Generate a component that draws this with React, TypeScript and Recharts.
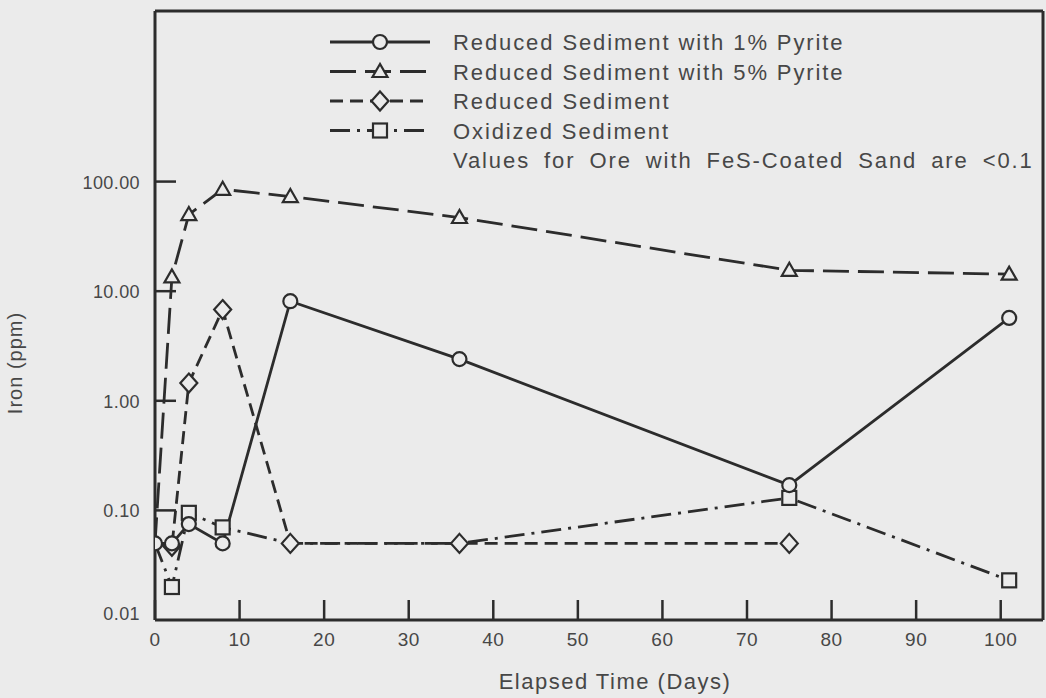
import React from 'react';
import { LineChart, Line, XAxis, YAxis, Legend, Label } from 'recharts';

// ---- data ----
const days = [0, 2, 4, 8, 16, 36, 75, 101];
const pyrite1 = [0.05, 0.05, 0.075, 0.05, 8.1, 2.4, 0.17, 5.7];
const pyrite5 = [0.05, 13.5, 50, 85, 73, 47, 15.5, 14.3];
const reduced = [0.05, 0.047, 1.45, 6.8, 0.05, 0.05, 0.05, null];
const oxidized = [0.05, 0.02, 0.095, 0.07, 0.05, 0.05, 0.13, 0.023];

const seriesKeys = ['pyrite1', 'pyrite5', 'reduced', 'oxidized'];
const seriesNames = [
  'Reduced Sediment with 1% Pyrite',
  'Reduced Sediment with 5% Pyrite',
  'Reduced Sediment',
  'Oxidized Sediment',
];
const noteText = 'Values for Ore with FeS-Coated Sand are <0.1';
const xMajorTicks = [0, 10, 20, 30, 40, 50, 60, 70, 80, 90, 100];
const xMinorTicks = [5, 15, 25, 35, 45, 55, 65, 75, 85, 95];
const yTicks = [0.01, 0.1, 1, 10, 100];
const yTickLabels = ['0.01', '0.10', '1.00', '10.00', '100.00'];
const xTitle = 'Elapsed Time (Days)';
const yTitle = 'Iron (ppm)';

const data = days.map((d, i) => ({
  day: d,
  pyrite1: pyrite1[i],
  pyrite5: pyrite5[i],
  reduced: reduced[i],
  oxidized: oxidized[i],
}));

// ---- style ----
const BG = '#ebebeb';
const INK = '#2c2c2c';
const TEXT = '#474747';
const FONT = '"Liberation Sans", Arial, sans-serif';
const W = 1046;
const H = 698;
const MARGIN = { top: 10, right: 2, bottom: 17, left: 75 };
const X_AXIS_H = 60;
const Y_AXIS_W = 80;
const PLOT_BOTTOM = H - MARGIN.bottom - X_AXIS_H - 1;
const PLOT_LEFT = MARGIN.left + Y_AXIS_W;
const X_DOMAIN = [0, 105];
const Y_DOMAIN = [0.01, 3600];
const LINE_W = 2.8;

const styles: Record<string, { dash?: string; shape: string }> = {
  pyrite1: { shape: 'circle' },
  pyrite5: { dash: '26 9', shape: 'triangle' },
  reduced: { dash: '13 7', shape: 'diamond' },
  oxidized: { dash: '20 7 3 7', shape: 'square' },
};

// marker precedence for coincident points
const precedence = ['pyrite1', 'reduced', 'oxidized', 'pyrite5'];
const seriesValues: Record<string, (number | null)[]> = { pyrite1, pyrite5, reduced, oxidized };

function isHidden(key: string, index: number) {
  const me = seriesValues[key][index];
  const rank = precedence.indexOf(key);
  for (let r = 0; r < rank; r++) {
    const other = seriesValues[precedence[r]][index];
    if (other != null && me != null && other === me) return true;
  }
  return false;
}

function Marker({ shape, cx, cy }: { shape: string; cx: number; cy: number }) {
  const common = { fill: BG, stroke: INK, strokeWidth: 2.2 };
  if (shape === 'circle') return <circle cx={cx} cy={cy} r={7} {...common} />;
  if (shape === 'triangle')
    return <polygon points={`${cx},${cy - 7.5} ${cx - 7.5},${cy + 5.5} ${cx + 7.5},${cy + 5.5}`} {...common} />;
  if (shape === 'diamond')
    return <polygon points={`${cx},${cy - 9.5} ${cx + 8.5},${cy} ${cx},${cy + 9.5} ${cx - 8.5},${cy}`} {...common} />;
  return <rect x={cx - 7} y={cy - 7} width={14} height={14} {...common} />;
}

const makeDot = (key: string) => (props: any) => {
  const { cx, cy, index } = props;
  if (cx == null || cy == null || props.value == null || isHidden(key, index)) {
    return <g key={`${key}-${index}`} />;
  }
  return (
    <g key={`${key}-${index}`}>
      <Marker shape={styles[key].shape} cx={cx} cy={cy} />
    </g>
  );
};

const XTick = (props: any) => {
  const { x, payload } = props;
  const v = Number(payload.value);
  return (
    <text x={x} y={PLOT_BOTTOM} dy={26} textAnchor="middle" fill={TEXT} fontSize={19} fontFamily={FONT} letterSpacing={0.5}>
      {v}
    </text>
  );
};

const YTick = (props: any) => {
  const { y, payload } = props;
  const ax = PLOT_LEFT;
  const i = yTicks.indexOf(payload.value);
  const bottom = i === 0;
  return (
    <g>
      {!bottom && <path d={`M${ax},${y} L${ax + 21},${y}`} stroke={INK} strokeWidth={2.5} fill="none" />}
      <text x={ax - 15} y={y} dy={bottom ? 0 : 7} textAnchor="end" fill={TEXT} fontSize={18} fontFamily={FONT} letterSpacing={0.4}>
        {yTickLabels[i]}
      </text>
    </g>
  );
};

const LegendContent = () => {
  const rowH = 29.5;
  const textStyle = { fill: TEXT, fontSize: 22, fontFamily: FONT, letterSpacing: 1.9 } as const;
  return (
    <svg width={720} height={160} style={{ display: 'block' }}>
      {seriesKeys.map((k, i) => {
        const y = 14 + i * rowH;
        return (
          <g key={k}>
            <line x1={10} x2={110} y1={y} y2={y} stroke={INK} strokeWidth={LINE_W} strokeDasharray={styles[k].dash} />
            <Marker shape={styles[k].shape} cx={60} cy={y} />
            <text x={133} y={y} dy={8} {...textStyle}>
              {seriesNames[i]}
            </text>
          </g>
        );
      })}
      <text x={133} y={14 + 4 * rowH} dy={8} {...textStyle} wordSpacing={6}>
        {noteText}
      </text>
    </svg>
  );
};

const tickStroke = { stroke: INK, strokeWidth: 2.5 };

export default function App() {
  return (
    <div style={{ position: 'absolute', left: 0, top: 0, width: W, height: H, background: BG }}>
      <LineChart width={W} height={H} data={data} margin={MARGIN}>
        {/* minor ticks: thin axis sitting on the plot bottom, ticks pointing inward */}
        <XAxis
          xAxisId="minor"
          dataKey="day"
          type="number"
          domain={X_DOMAIN}
          ticks={xMinorTicks}
          interval={0}
          allowDataOverflow
          height={1}
          tickSize={-10}
          tickLine={tickStroke}
          tick={false}
          axisLine={false}
        />
        <XAxis
          dataKey="day"
          type="number"
          domain={X_DOMAIN}
          ticks={xMajorTicks}
          interval={0}
          allowDataOverflow
          tickSize={-20}
          tickMargin={30}
          tickLine={tickStroke}
          tick={<XTick />}
          axisLine={{ stroke: INK, strokeWidth: 3 }}
          height={X_AXIS_H}
        >
          <Label
            content={(p: any) => {
              const vb = p.viewBox;
              return (
                <text x={vb.x + vb.width / 2 + 16} y={vb.y + 69} textAnchor="middle" fill={TEXT} fontSize={22} fontFamily={FONT} letterSpacing={1.5}>
                  {xTitle}
                </text>
              );
            }}
          />
        </XAxis>
        <XAxis
          xAxisId="top"
          orientation="top"
          dataKey="day"
          type="number"
          domain={X_DOMAIN}
          height={1}
          tick={false}
          tickLine={false}
          axisLine={{ stroke: INK, strokeWidth: 3 }}
        />
        <YAxis
          scale="log"
          domain={Y_DOMAIN}
          ticks={yTicks}
          interval={0}
          allowDataOverflow
          tickSize={0}
          tickMargin={15}
          tickLine={false}
          tick={<YTick />}
          axisLine={{ stroke: INK, strokeWidth: 3 }}
          width={Y_AXIS_W}
        >
          <Label
            content={(p: any) => {
              const vb = p.viewBox;
              const x = vb.x - 53;
              const y = vb.y + 352;
              return (
                <text x={x} y={y} transform={`rotate(-90 ${x} ${y})`} textAnchor="middle" fill={TEXT} fontSize={20} fontFamily={FONT} letterSpacing={1}>
                  {yTitle}
                </text>
              );
            }}
          />
        </YAxis>
        <YAxis
          yAxisId="right"
          orientation="right"
          scale="log"
          domain={Y_DOMAIN}
          allowDataOverflow
          width={1}
          tick={false}
          tickLine={false}
          axisLine={{ stroke: INK, strokeWidth: 3 }}
        />
        <Legend
          layout="vertical"
          align="center"
          verticalAlign="middle"
          content={<LegendContent />}
          wrapperStyle={{ position: 'absolute', left: 320, top: 28, width: 720, height: 160 }}
        />
        {['oxidized', 'pyrite5', 'reduced', 'pyrite1'].map((k) => (
          <Line
            key={k}
            dataKey={k}
            name={seriesNames[seriesKeys.indexOf(k)]}
            type="linear"
            stroke={INK}
            strokeWidth={LINE_W}
            strokeDasharray={styles[k].dash}
            dot={makeDot(k)}
            activeDot={false}
            isAnimationActive={false}
            connectNulls={false}
          />
        ))}
      </LineChart>
    </div>
  );
}
